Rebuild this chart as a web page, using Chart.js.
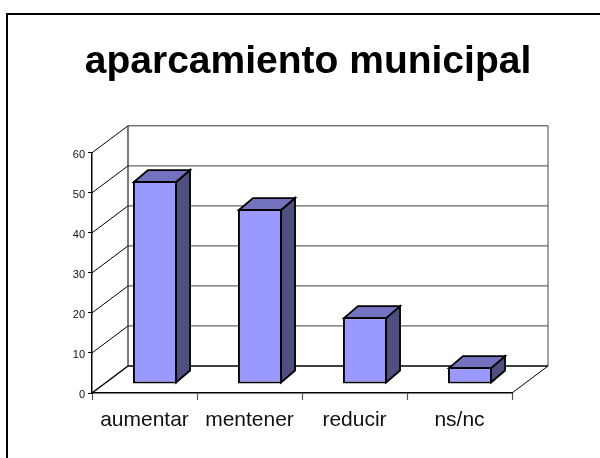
<!DOCTYPE html>
<html>
<head>
<meta charset="utf-8">
<script src="https://cdn.jsdelivr.net/npm/chart.js@4"></script>
<style>
html, body { margin: 0; padding: 0; background: #fff; }
#wrap { width: 600px; height: 458px; }
</style>
</head>
<body>
<div id="wrap"><canvas id="chart" width="600" height="458"></canvas></div>
<script>
const categories = ['aumentar', 'mentener', 'reducir', 'ns/nc'];
const values = [50.7, 43.7, 16.7, 4.2];
const yTicks = [0, 10, 20, 30, 40, 50, 60];

const FONT = '"Liberation Sans", Arial, sans-serif';

// Fake 3D: how far the back wall sits from the axes, and the bars inside that depth
const wall = { dx: 36, dy: -27 };
const barPos = { dx: 10.5, dy: -9 };
const barDepth = { dx: 14, dy: -12 };

function line(ctx, x1, y1, x2, y2, color, width) {
    ctx.beginPath();
    ctx.moveTo(x1, y1);
    ctx.lineTo(x2, y2);
    ctx.strokeStyle = color;
    ctx.lineWidth = width;
    ctx.stroke();
}

function poly(ctx, pts, fill) {
    ctx.beginPath();
    pts.forEach((p, i) => (i ? ctx.lineTo(p[0], p[1]) : ctx.moveTo(p[0], p[1])));
    ctx.closePath();
    ctx.fillStyle = fill;
    ctx.fill();
    ctx.strokeStyle = '#000';
    ctx.lineWidth = 1.8;
    ctx.lineJoin = 'miter';
    ctx.stroke();
}

const frame3d = {
    id: 'frame3d',
    beforeDraw(chart) {
        const ctx = chart.ctx;
        // slide border, runs off the right and bottom of the picture
        line(ctx, 7, 458, 7, 14, '#000', 2);
        line(ctx, 6, 14, 600, 14, '#000', 2);
    },
    beforeDatasetsDraw(chart) {
        const ctx = chart.ctx;
        const { left, right, bottom } = chart.chartArea;
        const y = chart.scales.y;
        ctx.save();
        const backL = left + wall.dx;
        const backR = right + wall.dx;
        const topY = y.getPixelForValue(60) + wall.dy;

        yTicks.forEach(t => {
            const py = y.getPixelForValue(t);
            if (t > 0) {
                line(ctx, left, py, backL, py + wall.dy, '#000', 1);
            }
            if (t > 0 && t < 60) {
                line(ctx, backL, py + wall.dy, backR, py + wall.dy, '#666', 1.2);
            }
        });
        line(ctx, backL, topY, backR, topY, '#333', 1);
        line(ctx, backR, topY, backR, bottom + wall.dy, '#666', 1.2);
        line(ctx, backL, topY, backL, bottom + wall.dy, '#222', 1.2);
        // floor
        line(ctx, left, bottom, backL, bottom + wall.dy, '#000', 1.5);
        line(ctx, right, bottom, backR, bottom + wall.dy, '#000', 1);
        line(ctx, backL, bottom + wall.dy, backR, bottom + wall.dy, '#000', 1.6);

        // side and top faces of each bar, taken from the bar elements
        chart.getDatasetMeta(0).data.forEach(bar => {
            const half = bar.width / 2 - 1;
            const xl = bar.x - half + barPos.dx;
            const xr = bar.x + half + barPos.dx;
            const yt = bar.y + 1 + barPos.dy;
            const yb = bar.base - 1 + barPos.dy;
            const d = barDepth;
            poly(ctx, [[xr, yt], [xr + d.dx, yt + d.dy], [xr + d.dx, yb + d.dy], [xr, yb]], '#4f4f80');
            poly(ctx, [[xl, yt], [xl + d.dx, yt + d.dy], [xr + d.dx, yt + d.dy], [xr, yt]], '#7272bf');
        });
        ctx.restore();

        // front faces are the normal bars, moved into the floor
        ctx.save();
        ctx.translate(barPos.dx, barPos.dy);
    },
    afterDatasetsDraw(chart) {
        chart.ctx.restore();
    }
};

new Chart(document.getElementById('chart'), {
    type: 'bar',
    data: {
        labels: categories,
        datasets: [{
            data: values,
            backgroundColor: '#9999ff',
            borderColor: '#000',
            borderWidth: 2,
            borderSkipped: false,
            categoryPercentage: 1,
            barPercentage: 0.42
        }]
    },
    options: {
        responsive: false,
        animation: false,
        layout: { padding: { left: 16, right: 0, top: 0, bottom: 0 } },
        plugins: {
            legend: { display: false },
            tooltip: { enabled: false },
            title: {
                display: true,
                text: 'aparcamiento municipal',
                color: '#000',
                font: { family: FONT, size: 39, weight: 'bold', lineHeight: 1.2 },
                padding: { top: 39, bottom: 67 }
            }
        },
        scales: {
            x: {
                afterFit(scale) { scale.height = 65; },
                grid: { drawOnChartArea: false, offset: true, tickLength: 7, tickColor: '#555', tickWidth: 1.2 },
                border: { color: '#000', width: 1.5 },
                ticks: {
                    color: '#111',
                    font: { family: FONT, size: 21 },
                    padding: 8,
                    maxRotation: 0
                }
            },
            y: {
                min: 0,
                max: 60,
                afterFit(scale) { scale.width = 76; },
                grid: { drawOnChartArea: false, tickLength: 4, tickColor: '#000', tickWidth: 1 },
                border: { color: '#000', width: 1.5 },
                ticks: {
                    stepSize: 10,
                    color: '#111',
                    font: { family: FONT, size: 11 },
                    padding: 3,
                    labelOffset: 2
                }
            },
            // empty right side keeps the title centred on the slide, not on the plot
            spacer: {
                position: 'right',
                display: true,
                afterFit(scale) { scale.width = 88; },
                grid: { display: false },
                border: { display: false },
                ticks: { display: false }
            }
        }
    },
    plugins: [frame3d]
});
</script>
</body>
</html>
